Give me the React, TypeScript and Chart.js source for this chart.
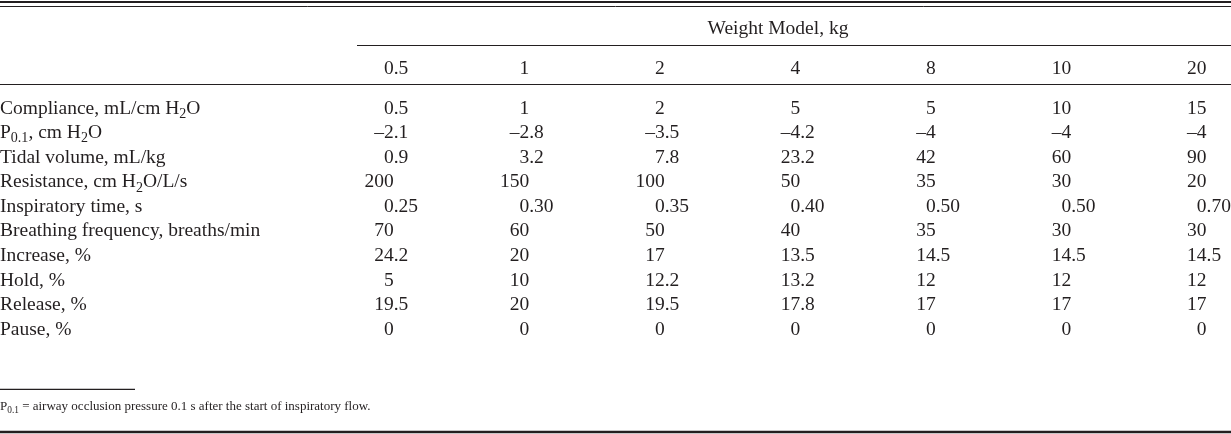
import React, { useEffect, useRef } from "react";
import { Chart, registerables } from "chart.js";

Chart.register(...registerables);

// ---------- data ----------
const spannerTitle = "Weight Model, kg";
const weightModels = ["0.5", "1", "2", "4", "8", "10", "20"];
const rowLabels = [
  "Compliance, mL/cm H_{2}O",
  "P_{0.1}, cm H_{2}O",
  "Tidal volume, mL/kg",
  "Resistance, cm H_{2}O/L/s",
  "Inspiratory time, s",
  "Breathing frequency, breaths/min",
  "Increase, %",
  "Hold, %",
  "Release, %",
  "Pause, %",
];
const compliance = [0.5, 1, 2, 5, 5, 10, 15];
const p01 = [-2.1, -2.8, -3.5, -4.2, -4, -4, -4];
const tidalVolume = [0.9, 3.2, 7.8, 23.2, 42, 60, 90];
const resistance = [200, 150, 100, 50, 35, 30, 20];
const inspiratoryTime = [0.25, 0.3, 0.35, 0.4, 0.5, 0.5, 0.7];
const breathingFrequency = [70, 60, 50, 40, 35, 30, 30];
const increasePct = [24.2, 20, 17, 13.5, 14.5, 14.5, 14.5];
const holdPct = [5, 10, 12.2, 13.2, 12, 12, 12];
const releasePct = [19.5, 20, 19.5, 17.8, 17, 17, 17];
const pausePct = [0, 0, 0, 0, 0, 0, 0];
const rowDecimals = [null, null, null, null, 2, null, null, null, null, null];
const footnote = "P_{0.1} = airway occlusion pressure 0.1 s after the start of inspiratory flow.";

const rowValues = [
  compliance,
  p01,
  tidalVolume,
  resistance,
  inspiratoryTime,
  breathingFrequency,
  increasePct,
  holdPct,
  releasePct,
  pausePct,
];

// ---------- styling ----------
const INK = "#231f20";
const FONT = '"Liberation Serif", "Times New Roman", serif';
const SIZE = 19.5;
const FOOT_SIZE = 13;

function fmt(v: number, dec: number | null): string {
  const s = dec == null ? String(v) : v.toFixed(dec);
  return s.replace("-", "\u2013");
}

type Seg = { t: string; sub: boolean };
function parseRich(s: string): Seg[] {
  const out: Seg[] = [];
  const re = /_\{([^}]*)\}/g;
  let last = 0;
  let m: RegExpExecArray | null;
  while ((m = re.exec(s))) {
    if (m.index > last) out.push({ t: s.slice(last, m.index), sub: false });
    out.push({ t: m[1], sub: true });
    last = re.lastIndex;
  }
  if (last < s.length) out.push({ t: s.slice(last), sub: false });
  return out;
}

function richWidth(ctx: CanvasRenderingContext2D, s: string, size: number) {
  let w = 0;
  for (const seg of parseRich(s)) {
    ctx.font = `${seg.sub ? size * 0.72 : size}px ${FONT}`;
    w += ctx.measureText(seg.t).width;
  }
  return w;
}

function drawRich(ctx: CanvasRenderingContext2D, s: string, x: number, yMid: number, size: number, align: "left" | "center" = "left") {
  const baseline = yMid + size * 0.34;
  let cx = align === "center" ? x - richWidth(ctx, s, size) / 2 : x;
  ctx.textAlign = "left";
  ctx.textBaseline = "alphabetic";
  for (const seg of parseRich(s)) {
    const fs = seg.sub ? size * 0.72 : size;
    ctx.font = `${fs}px ${FONT}`;
    ctx.fillText(seg.t, cx, baseline + (seg.sub ? size * 0.22 : 0));
    cx += ctx.measureText(seg.t).width;
  }
}

function drawDecimal(ctx: CanvasRenderingContext2D, s: string, anchor: number, yMid: number, size: number) {
  const baseline = yMid + size * 0.34;
  ctx.font = `${size}px ${FONT}`;
  ctx.textBaseline = "alphabetic";
  const dot = s.indexOf(".");
  const intPart = dot >= 0 ? s.slice(0, dot) : s;
  const frac = dot >= 0 ? s.slice(dot) : "";
  ctx.textAlign = "right";
  ctx.fillText(intPart, anchor, baseline);
  if (frac) {
    ctx.textAlign = "left";
    ctx.fillText(frac, anchor, baseline);
  }
}

function hline(ctx: CanvasRenderingContext2D, x1: number, x2: number, y: number, w: number) {
  ctx.beginPath();
  ctx.lineWidth = w;
  ctx.strokeStyle = INK;
  ctx.moveTo(x1, y);
  ctx.lineTo(x2, y);
  ctx.stroke();
}

const tablePlugin = {
  id: "tablePlugin",
  afterDraw(chart: any) {
    const ctx: CanvasRenderingContext2D = chart.ctx;
    const xs = chart.scales.x;
    const ys = chart.scales.y;
    const W = chart.width;
    const H = chart.height;
    const rowStep = ys.getPixelForValue(1) - ys.getPixelForValue(0);
    const top = ys.getPixelForValue(0);
    const spanLeft = 357;
    ctx.save();
    ctx.fillStyle = INK;

    // top double rule
    hline(ctx, 0, W, 2, 2.2);
    hline(ctx, 0, W, 6.5, 1);

    // spanner
    drawRich(ctx, spannerTitle, (spanLeft + W) / 2 - 16, top - 80, SIZE, "center");
    hline(ctx, spanLeft, W, top - 61.5, 1.2);

    // column headers
    weightModels.forEach((w, i) => {
      drawDecimal(ctx, w, xs.getPixelForValue(i), top - 40, SIZE);
    });
    hline(ctx, 0, W, top - 22.5, 1.2);

    // row labels
    rowLabels.forEach((lab, r) => {
      drawRich(ctx, lab, 0, ys.getPixelForValue(r), SIZE);
    });

    // cells from dataset elements
    chart.data.datasets.forEach((ds: any, di: number) => {
      const meta = chart.getDatasetMeta(di);
      meta.data.forEach((el: any, i: number) => {
        const raw = ds.data[i];
        drawDecimal(ctx, fmt(raw.v, ds.decimals), el.x, el.y, SIZE);
      });
    });

    // footnote
    const lastRow = ys.getPixelForValue(rowLabels.length - 1);
    hline(ctx, 0, 135, lastRow + rowStep * 2.5, 1.2);
    drawRich(ctx, footnote, 0, lastRow + rowStep * 3.17, FOOT_SIZE);

    // bottom rule
    hline(ctx, 0, W, H - 2, 2.5);
    ctx.restore();
  },
};

export default function App() {
  const ref = useRef<HTMLCanvasElement | null>(null);
  useEffect(() => {
    document.body.style.margin = "0";
    const canvas = ref.current!;
    const datasets = rowValues.map((vals, r) => ({
      label: rowLabels[r],
      decimals: rowDecimals[r],
      data: vals.map((v, i) => ({ x: i, y: r, v })),
      pointRadius: 0,
      pointHoverRadius: 0,
      showLine: false,
    }));
    const chart = new Chart(canvas, {
      type: "scatter",
      data: { datasets: datasets as any },
      options: {
        animation: false,
        responsive: false,
        devicePixelRatio: 1,
        events: [],
        layout: { padding: { left: 326, right: 0, top: 107, bottom: 106 } },
        plugins: { legend: { display: false }, tooltip: { enabled: false } },
        scales: {
          x: { type: "linear", min: -0.5, max: 6.18, display: false },
          y: { type: "linear", min: 0, max: 9, reverse: true, display: false },
        },
      },
      plugins: [tablePlugin],
    });
    return () => chart.destroy();
  }, []);
  return (
    <canvas
      ref={ref}
      width={1231}
      height={434}
      style={{ display: "block", width: 1231, height: 434, background: "#fff" }}
    />
  );
}
